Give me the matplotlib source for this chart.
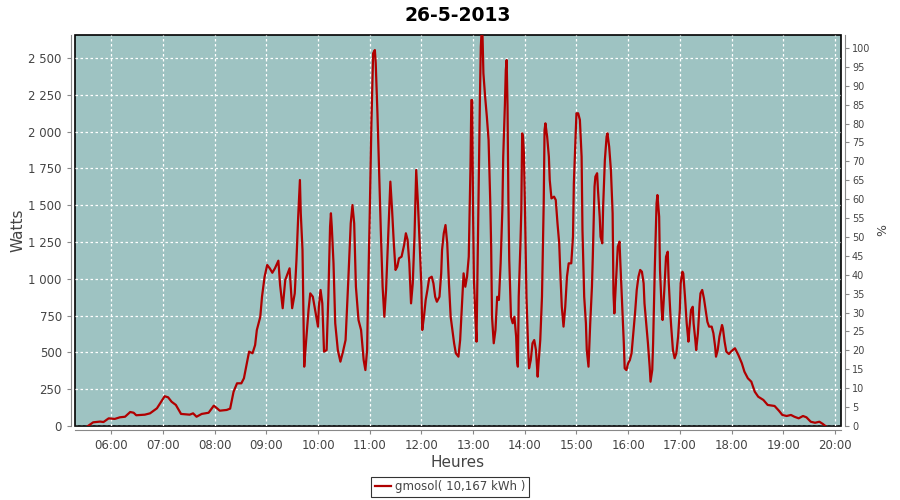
import matplotlib
matplotlib.use('Agg')
import numpy as np
from matplotlib import pyplot as plt
from matplotlib.ticker import FuncFormatter, MultipleLocator

# relevés de puissance (heure, watts)
heures = [
    '05:33', '05:39', '05:47', '05:51', '05:57', '06:04', '06:10', '06:16', '06:22', '06:26',
    '06:29', '06:39', '06:45', '06:53', '07:02', '07:06', '07:10', '07:15', '07:21', '07:31',
    '07:35', '07:39', '07:45', '07:53', '07:59', '08:02', '08:06', '08:14', '08:18', '08:22',
    '08:26', '08:31', '08:34', '08:37', '08:40', '08:44', '08:47', '08:49', '08:53', '08:55',
    '08:58', '09:01', '09:04', '09:07', '09:10', '09:14', '09:16', '09:19', '09:22', '09:27',
    '09:30', '09:33', '09:35', '09:37', '09:39', '09:40', '09:42', '09:44', '09:46', '09:49',
    '09:51', '09:54', '09:58', '10:00', '10:01', '10:03', '10:05', '10:07', '10:10', '10:12',
    '10:14', '10:15', '10:16', '10:18', '10:20', '10:23', '10:26', '10:29', '10:32', '10:35',
    '10:38', '10:40', '10:42', '10:44', '10:47', '10:50', '10:53', '10:55', '10:57', '10:58',
    '11:00', '11:02', '11:04', '11:06', '11:07', '11:09', '11:11', '11:13', '11:15', '11:17',
    '11:19', '11:21', '11:23', '11:24', '11:26', '11:28', '11:30', '11:32', '11:34', '11:37',
    '11:40', '11:42', '11:44', '11:46', '11:48', '11:50', '11:52', '11:53', '11:54', '11:56',
    '11:58', '12:00', '12:01', '12:03', '12:05', '12:07', '12:09', '12:12', '12:14', '12:16',
    '12:18', '12:21', '12:23', '12:24', '12:26', '12:28', '12:30', '12:32', '12:34', '12:36',
    '12:38', '12:40', '12:43', '12:45', '12:47', '12:49', '12:51', '12:53', '12:55', '12:57',
    '12:58', '12:59', '13:00', '13:01', '13:03', '13:04', '13:05', '13:07', '13:08', '13:09',
    '13:10', '13:11', '13:12', '13:14', '13:16', '13:18', '13:20', '13:21', '13:22', '13:24',
    '13:26', '13:28', '13:30', '13:32', '13:34', '13:35', '13:37', '13:38', '13:39', '13:40',
    '13:41', '13:42', '13:44', '13:46', '13:48', '13:50', '13:51', '13:52', '13:53', '13:55',
    '13:56', '13:57', '13:58', '13:59', '14:00', '14:02', '14:04', '14:05', '14:07', '14:09',
    '14:11', '14:13', '14:15', '14:16', '14:18', '14:20', '14:22', '14:23', '14:24', '14:26',
    '14:28', '14:29', '14:31', '14:34', '14:36', '14:38', '14:40', '14:41', '14:43', '14:45',
    '14:47', '14:49', '14:51', '14:54', '14:56', '14:57', '14:59', '15:00', '15:02', '15:04',
    '15:06', '15:07', '15:09', '15:11', '15:12', '15:14', '15:16', '15:18', '15:19', '15:21',
    '15:22', '15:24', '15:25', '15:27', '15:28', '15:30', '15:31', '15:33', '15:35', '15:36',
    '15:38', '15:40', '15:42', '15:43', '15:44', '15:46', '15:48', '15:50', '15:51', '15:53',
    '15:55', '15:56', '15:58', '16:00', '16:02', '16:04', '16:06', '16:08', '16:10', '16:12',
    '16:14', '16:16', '16:18', '16:19', '16:21', '16:23', '16:25', '16:26', '16:28', '16:29',
    '16:31', '16:33', '16:34', '16:36', '16:37', '16:39', '16:40', '16:42', '16:44', '16:46',
    '16:47', '16:49', '16:50', '16:52', '16:54', '16:56', '16:58', '17:00', '17:01', '17:03',
    '17:04', '17:06', '17:08', '17:10', '17:11', '17:13', '17:15', '17:16', '17:18', '17:19',
    '17:21', '17:23', '17:24', '17:26', '17:28', '17:30', '17:32', '17:34', '17:37', '17:39',
    '17:41', '17:42', '17:44', '17:46', '17:49', '17:50', '17:52', '17:54', '17:57', '18:00',
    '18:04', '18:08', '18:12', '18:15', '18:19', '18:23', '18:27', '18:31', '18:37', '18:42',
    '18:50', '18:55', '18:59', '19:04', '19:09', '19:13', '19:18', '19:23', '19:27', '19:32',
    '19:37', '19:42', '19:46', '19:49',
]
watts = [
    0, 25, 30, 27, 52, 48, 59, 63, 95, 90,
    73, 77, 86, 120, 202, 195, 165, 143, 82, 77,
    86, 63, 82, 90, 138, 124, 104, 109, 118, 233,
    290, 290, 324, 414, 505, 494, 550, 652, 742, 878,
    1014, 1094, 1071, 1041, 1071, 1123, 958, 800, 992, 1071,
    800, 901, 1128, 1422, 1671, 1445, 1196, 403, 562, 788,
    901, 878, 742, 675, 810, 924, 833, 505, 516, 878,
    1354, 1445, 1354, 1105, 698, 516, 437, 505, 584, 969,
    1377, 1501, 1377, 946, 720, 652, 448, 380, 516, 856,
    1422, 2056, 2532, 2554, 2464, 2124, 1717, 1309, 946, 742,
    924, 1218, 1512, 1660, 1467, 1241, 1060, 1082, 1139, 1150,
    1230, 1309, 1264, 1105, 833, 969, 1286, 1512, 1739, 1512,
    1241, 946, 652, 742, 856, 924, 1003, 1014, 969, 878,
    844, 878, 1037, 1196, 1309, 1365, 1241, 969, 742, 652,
    562, 494, 471, 584, 810, 1037, 946, 1014, 1150, 1761,
    2214, 2214, 1445, 992, 698, 573, 992, 1785, 2237, 2577,
    2690, 2645, 2396, 2237, 2101, 1943, 1512, 1218, 742, 562,
    652, 878, 856, 1105, 1467, 1829, 2192, 2418, 2486, 2169,
    1535, 1128, 742, 698, 742, 607, 448, 403, 878, 1241,
    1467, 1988, 1965, 1852, 1558, 878, 516, 392, 448, 562,
    584, 516, 335, 426, 584, 878, 1512, 2011, 2056, 1965,
    1829, 1671, 1546, 1558, 1535, 1377, 1241, 1082, 810, 675,
    810, 1014, 1105, 1105, 1286, 1648, 1965, 2124, 2124, 2079,
    1829, 1331, 878, 698, 516, 403, 698, 946, 1150, 1626,
    1694, 1717, 1603, 1422, 1286, 1241, 1490, 1807, 1965, 1988,
    1897, 1739, 1445, 900, 765, 992, 1218, 1252, 1105, 833,
    562, 392, 380, 426, 448, 494, 630, 765, 924, 1014,
    1060, 1048, 969, 833, 698, 562, 403, 301, 380, 562,
    1082, 1512, 1569, 1422, 1060, 788, 720, 924, 1150, 1184,
    992, 765, 675, 516, 460, 494, 607, 788, 969, 1048,
    1037, 878, 698, 573, 652, 788, 810, 698, 584, 516,
    630, 833, 901, 924, 867, 788, 708, 675, 675, 630,
    539, 471, 516, 607, 686, 664, 573, 505, 489, 509,
    528, 482, 426, 369, 324, 301, 233, 199, 177, 143,
    136, 104, 75, 68, 75, 63, 52, 68, 59, 29,
    22, 29, 14, 0,
]
nom_serie = 'gmosol( 10,167 kWh )'
titre = '26-5-2013'
puissance_max = 2568  # valeur correspondant à 100 %


def en_heures(hhmm):
    h, m = hhmm.split(':')
    return int(h) + int(m) / 60


x = np.array([en_heures(h) for h in heures])
y = np.array(watts)

fig = plt.figure(figsize=(9, 5), dpi=100)
ax = fig.add_axes([0.0833, 0.148, 0.851, 0.782])
ax.set_facecolor('#9ec3c2')
ax.patch.set_edgecolor('black')
ax.patch.set_linewidth(1.2)

ax.plot(x, y, color='#b00000', linewidth=1.6, label=nom_serie, zorder=3)

ax.set_xlim(5.298, 20.116)
ax.set_ylim(0, 2656)
ax.xaxis.set_major_locator(MultipleLocator(1))
ax.xaxis.set_major_formatter(FuncFormatter(lambda v, p: '%02d:00' % int(round(v))))
ax.yaxis.set_major_locator(MultipleLocator(250))
ax.yaxis.set_major_formatter(FuncFormatter(lambda v, p: '{:,}'.format(int(v)).replace(',', ' ')))

ax.grid(True, color='white', linestyle=(0, (2, 2)), linewidth=0.9)
ax.set_axisbelow(True)

gris = '#888888'
ax.spines['top'].set_visible(False)
ax.spines['right'].set_visible(False)
for s in ['left', 'bottom']:
    ax.spines[s].set_position(('outward', 3))
    ax.spines[s].set_color(gris)
ax.tick_params(axis='both', colors=gris, labelcolor='#444444', labelsize=8.5, length=3, width=0.8)

ax.set_ylabel('Watts', fontsize=11, color='#444444', labelpad=2)
ax.set_xlabel('Heures', fontsize=11, color='#444444', labelpad=2)
ax.set_title(titre, fontsize=13.5, fontweight='bold', pad=10)

ax2 = ax.twinx()
ax2.set_ylim(0, 2656 / puissance_max * 100)
ax2.yaxis.set_major_locator(MultipleLocator(5))
for s in ['top', 'left', 'bottom']:
    ax2.spines[s].set_visible(False)
ax2.spines['right'].set_position(('outward', 3))
ax2.spines['right'].set_color(gris)
ax2.tick_params(axis='y', colors=gris, labelcolor='#444444', labelsize=7, length=3, width=0.8, pad=2)
ax2.set_ylabel('%', fontsize=9, color='#444444', labelpad=4)

leg = fig.legend(loc='lower center', bbox_to_anchor=(0.5, 0.006), fontsize=8.5,
                 frameon=True, fancybox=False, handlelength=1.4, handletextpad=0.3,
                 borderpad=0.3, borderaxespad=0)
leg.get_frame().set_edgecolor('black')
leg.get_frame().set_linewidth(0.8)
for t in leg.get_texts():
    t.set_color('#444444')

fig.savefig('out.png', dpi=100)
